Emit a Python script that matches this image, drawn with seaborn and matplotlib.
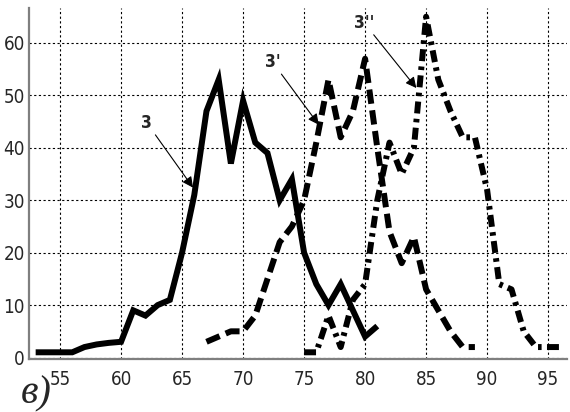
import matplotlib
matplotlib.use("Agg")
import matplotlib.pyplot as plt
import seaborn as sns

# Series "3" (solid)
x3 = [53, 54, 55, 56, 57, 58, 59, 60, 61, 62, 63, 64, 65, 66, 67, 68, 69, 70,
      71, 72, 73, 74, 75, 76, 77, 78, 79, 80, 81]
y3 = [1, 1, 1, 1, 2, 2.5, 2.8, 3, 9, 8, 10, 11, 20, 31, 47, 53, 37, 49,
      41, 39, 30, 34, 20, 14, 10, 14, 9, 4, 6]

# Series "3'" (dashed)
x3p = [67, 68, 69, 70, 71, 72, 73, 74, 75, 76, 77, 78, 79, 80, 81, 82, 83,
       84, 85, 86, 87, 88, 89]
y3p = [3, 4, 5, 5, 8, 15, 22, 25, 30, 41, 53, 42, 47, 57, 40, 24, 18,
       23, 13, 9, 5, 2, 2]

# Series "3''" (dash-dot)
x3pp = [75, 76, 77, 78, 79, 80, 81, 82, 83, 84, 85, 86, 87, 88, 89, 90, 91,
        92, 93, 94, 95, 96]
y3pp = [1, 1, 8, 2, 11, 14, 30, 41, 35, 40, 65, 53, 47, 42, 42, 32, 14,
        13, 5, 2, 2, 2]

xticks = [55, 60, 65, 70, 75, 80, 85, 90, 95]
yticks = [0, 10, 20, 30, 40, 50, 60]

sns.set_style("white")
plt.rcParams["font.family"] = ["DejaVu Sans"]
plt.rcParams["font.stretch"] = "condensed"

fig = plt.figure(figsize=(5.7, 4.12), dpi=100)
ax = fig.add_axes([0.051, 0.129, 0.944, 0.852])

lw = 4.3
sns.lineplot(x=x3, y=y3, ax=ax, color="black", linewidth=lw,
             solid_joinstyle="miter", solid_capstyle="butt")
sns.lineplot(x=x3p, y=y3p, ax=ax, color="black", linewidth=lw,
             linestyle=(0, (2.4, 1.1)), dash_capstyle="butt")
sns.lineplot(x=x3pp, y=y3pp, ax=ax, color="black", linewidth=lw,
             linestyle=(0, (2.0, 0.9, 0.6, 0.9)), dash_capstyle="butt")

ax.set_xlim(52.46, 96.56)
ax.set_ylim(-0.25, 66.7)
ax.set_xticks(xticks)
ax.set_yticks(yticks)
ax.set_xticklabels([str(v) for v in xticks])
ax.set_yticklabels([str(v) for v in yticks])
ax.set_xlabel("")
ax.set_ylabel("")

ax.grid(True, color="black", linestyle=(0, (2, 2.2)), linewidth=0.8)
ax.set_axisbelow(True)

for side in ("top", "right"):
    ax.spines[side].set_visible(False)
for side in ("left", "bottom"):
    ax.spines[side].set_color("#7f7f7f")
    ax.spines[side].set_linewidth(1.6)

ax.tick_params(axis="both", direction="in", length=4, width=1, color="black",
               labelsize=13.5)
ax.tick_params(axis="x", pad=8)
ax.tick_params(axis="y", pad=3)

arrow = dict(arrowstyle="-|>", color="black", lw=0.8, mutation_scale=16,
             shrinkA=0, shrinkB=0)
label_kw = dict(fontsize=12.5, fontweight="bold", ha="center", va="center")
ax.annotate("3", xy=(65.9, 32.4), xytext=(62.1, 44.8), arrowprops=arrow, **label_kw)
ax.annotate("3'", xy=(76.2, 44.4), xytext=(72.4, 56.4), arrowprops=arrow, **label_kw)
ax.annotate("3''", xy=(84.2, 51.4), xytext=(79.9, 63.9), arrowprops=arrow, **label_kw)

fig.text(0.036, 0.022, "в)", fontsize=29, fontstyle="italic",
         family=["Liberation Serif", "DejaVu Serif"], ha="left", va="baseline")

fig.savefig("out.png", dpi=100)
